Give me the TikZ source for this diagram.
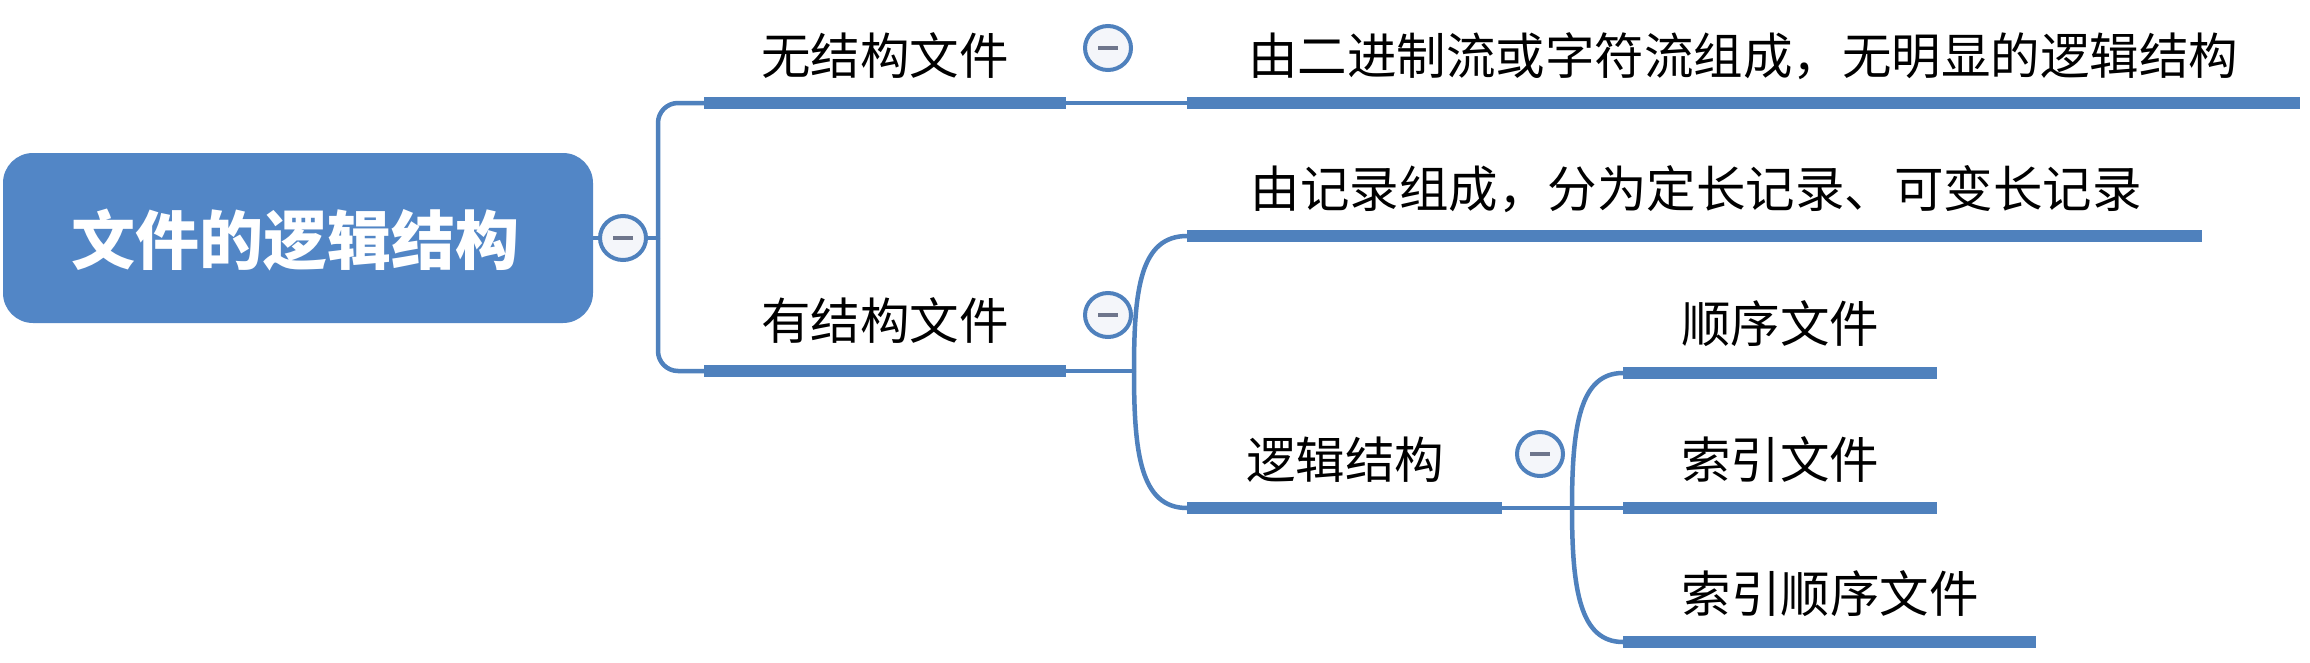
\documentclass[tikz,border=0pt]{standalone}
\usepackage{fontspec}
\newfontfamily\cjk{Noto Sans CJK SC}
\usetikzlibrary{shapes.geometric}
\definecolor{mblue}{RGB}{79,129,189}
\definecolor{rootblue}{RGB}{82,134,198}
\definecolor{minusgray}{RGB}{110,118,140}
\definecolor{foldfill}{RGB}{244,246,250}
\begin{document}
\begin{tikzpicture}[x=1pt,y=-1pt,
  conn/.style={draw=mblue,line width=4.5pt},
  uline/.style={draw=mblue,line width=12pt},
  topic/.style={font=\cjk\fontsize{49.5}{50}\selectfont, inner sep=0pt, text=black, anchor=center},
  fold/.style={draw=mblue, fill=foldfill, line width=4pt, ellipse, minimum width=46pt, minimum height=44pt, inner sep=0pt,
    path picture={\draw[minusgray,line width=4pt] ([xshift=-10pt]path picture bounding box.center) -- ([xshift=10pt]path picture bounding box.center);}},
]
\useasboundingbox[fill=white] (0,0) rectangle (2310,662);

% root
\node[fill=rootblue, rounded corners=30pt, minimum width=590pt, minimum height=170pt, inner sep=0pt] (root) at (298,238) {};
\node[font=\cjk\bfseries\fontsize{64}{64}\selectfont, text=white, inner sep=0pt] (roottext) at (295,240) {文件的逻辑结构};
\node[fold] (f0) at (623,238) {};
\draw[conn] (root.east) -- (f0.west);
\coordinate (b0) at (658,238);
\draw[conn] (f0.east) -- (b0);

% level 1
\coordinate (u1a) at (704,103); \coordinate (u1b) at (1066,103);
\coordinate (u2a) at (704,371); \coordinate (u2b) at (1066,371);
\draw[conn, rounded corners=20pt] (b0) |- (u1a);
\draw[conn, rounded corners=20pt] (b0) |- (u2a);
\draw[uline] (u1a) -- (u1b);
\draw[uline] (u2a) -- (u2b);
\node[topic] (t1) at (885,56) {无结构文件};
\node[topic] (t2) at (885,321) {有结构文件};
\node[fold] (f1) at (1108,48) {};
\node[fold] (f2) at (1108,315) {};

% children of 无结构文件
\coordinate (c1a) at (1187,103); \coordinate (c1b) at (2300,103);
\draw[conn] (u1b) -- (c1a);
\draw[uline] (c1a) -- (c1b);
\node[topic] (t11) at (1743,56) {由二进制流或字符流组成，无明显的逻辑结构};

% children of 有结构文件
\coordinate (j2) at (1134,371);
\coordinate (c2a) at (1187,236); \coordinate (c2b) at (2202,236);
\coordinate (c3a) at (1187,508); \coordinate (c3b) at (1502,508);
\draw[conn] (u2b) -- (j2);
\draw[conn] (j2) .. controls (1134,290) and (1140,236) .. (c2a);
\draw[conn] (j2) .. controls (1134,452) and (1140,508) .. (c3a);
\draw[uline] (c2a) -- (c2b);
\draw[uline] (c3a) -- (c3b);
\node[topic] (t21) at (1696,189) {由记录组成，分为定长记录、可变长记录};
\node[topic] (t22) at (1345,460) {逻辑结构};
\node[fold] (f3) at (1540,454) {};

% children of 逻辑结构
\coordinate (j3) at (1572,508);
\coordinate (g1a) at (1623,373); \coordinate (g1b) at (1937,373);
\coordinate (g2a) at (1623,508); \coordinate (g2b) at (1937,508);
\coordinate (g3a) at (1623,642); \coordinate (g3b) at (2036,642);
\draw[conn] (c3b) -- (j3);
\draw[conn] (j3) -- (g2a);
\draw[conn] (j3) .. controls (1572,425) and (1580,373) .. (g1a);
\draw[conn] (j3) .. controls (1572,590) and (1580,642) .. (g3a);
\draw[uline] (g1a) -- (g1b);
\draw[uline] (g2a) -- (g2b);
\draw[uline] (g3a) -- (g3b);
\node[topic] (t31) at (1780,324) {顺序文件};
\node[topic] (t32) at (1780,460) {索引文件};
\node[topic] (t33) at (1830,594) {索引顺序文件};
\end{tikzpicture}
\end{document}
